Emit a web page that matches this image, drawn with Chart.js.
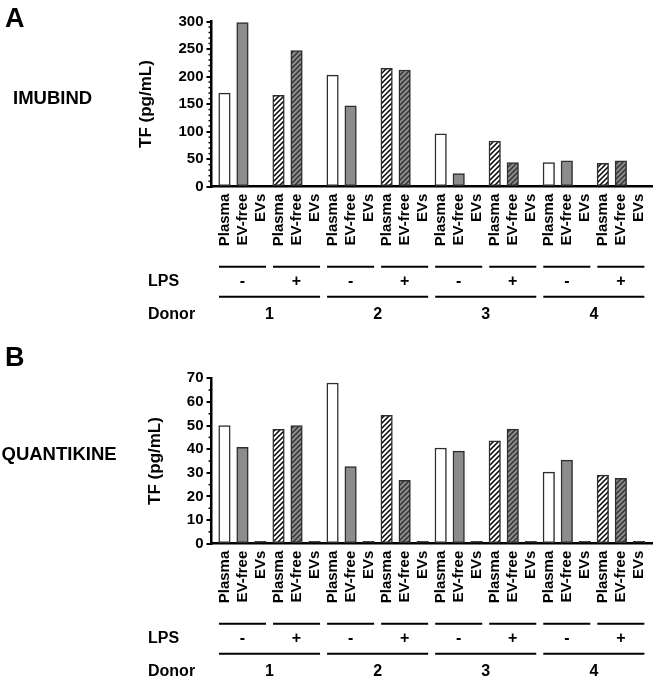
<!DOCTYPE html>
<html lang="en">
<head>
<meta charset="UTF-8">
<title>TF in plasma, EV-free plasma and EVs</title>
<style>
  body { margin: 0; background: #fff; font-family: 'Liberation Sans', Arial, sans-serif; }
  #page { position: relative; width: 664px; height: 680px; }
  .panel { position: absolute; left: 0; width: 664px; height: 340px; }
  .letter { position: absolute; font-weight: bold; font-size: 27px; line-height: 1; }
  .assay { position: absolute; font-weight: bold; font-size: 18.5px; line-height: 1; }
</style>
<script src="https://cdn.jsdelivr.net/npm/chart.js"></script>
</head>
<body>
<div id="page">
  <div class="panel" style="top:0"><canvas id="chartA"></canvas></div>
  <div class="panel" style="top:340px"><canvas id="chartB"></canvas></div>
  <div class="letter" style="left:5px; top:4.5px">A</div>
  <div class="assay" style="left:13px; top:89px">IMUBIND</div>
  <div class="letter" style="left:5px; top:344px">B</div>
  <div class="assay" style="left:1.5px; top:445px">QUANTIKINE</div>
</div>

<script>
// categories on the x axis
const fractions = ['Plasma', 'EV-free', 'EVs'];
const lpsSigns = ['-', '+'];
const donors = ['1', '2', '3', '4'];

// values per group, order: D1 -LPS, D1 +LPS, D2 -LPS, D2 +LPS, ... D4 +LPS
const imubindPlasma = [170, 166, 202.5, 215, 96, 83, 44, 42.5];
const imubindEvFree = [298, 247, 147, 212, 24, 44, 47, 47];
const imubindEVs    = [0, 0, 0, 0, 0, 0, 0, 0];

const quantPlasma = [50, 48.4, 68, 54.3, 40.5, 43.5, 30.3, 29];
const quantEvFree = [40.8, 50, 32.6, 26.8, 39.2, 48.5, 35.4, 27.7];
const quantEVs    = [1, 1, 1, 1, 1, 1, 1, 1];

// y axis ticks: [max, major step, minor step]
const imubindTicks = [300, 50, 10];
const quantTicks = [70, 10, 5];

const FONT = "'Liberation Sans', Arial, sans-serif";
const GREY = '#8c8c8c';
const EDGE = '#2e2e2e';

function makeHatch(bg, fg) {
    const c = document.createElement('canvas');
    c.width = 5; c.height = 5;
    const g = c.getContext('2d');
    g.fillStyle = bg;
    g.fillRect(0, 0, 5, 5);
    g.strokeStyle = fg;
    g.lineWidth = 1.5;
    g.beginPath();
    g.moveTo(0, 5); g.lineTo(5, 0);
    g.moveTo(-1, 1); g.lineTo(1, -1);
    g.moveTo(4, 6); g.lineTo(6, 4);
    g.stroke();
    return g.createPattern(c, 'repeat');
}

// bars of one fraction for one LPS state (lps = null -> every group)
function points(values, frac, lps) {
    const pts = [];
    values.forEach((v, g) => {
        if (lps === null || g % 2 === lps) pts.push({ x: g * 3 + frac, y: v });
    });
    return pts;
}

function barSet(data, fill) {
    return {
        data: data,
        backgroundColor: fill,
        borderColor: EDGE,
        borderWidth: 1.5,
        borderSkipped: false,
        barThickness: 11.5,
        grouped: false
    };
}

const groupRows = {
    id: 'groupRows',
    afterDraw(chart, args, opts) {
        const { ctx, chartArea } = chart;
        const xs = chart.scales.x, ys = chart.scales.y;
        ctx.save();
        // minor ticks on the y axis
        ctx.strokeStyle = '#000';
        ctx.lineWidth = 1.5;
        for (let v = opts.minor; v < ys.max; v += opts.minor) {
            if (v % opts.major === 0) continue;
            const py = ys.getPixelForValue(v);
            ctx.beginPath();
            ctx.moveTo(chartArea.left - 3, py);
            ctx.lineTo(chartArea.left, py);
            ctx.stroke();
        }
        // LPS and donor rows below the labels
        const base = chartArea.bottom;
        ctx.lineWidth = 2;
        ctx.fillStyle = '#000';
        ctx.font = 'bold 16px ' + FONT;
        ctx.textBaseline = 'middle';
        ctx.textAlign = 'left';
        ctx.fillText('LPS', 148, base + 95);
        ctx.fillText('Donor', 148, base + 128);
        ctx.textAlign = 'center';
        for (let g = 0; g < 8; g++) {
            const x0 = xs.getPixelForValue(g * 3) - 5.5;
            const x1 = xs.getPixelForValue(g * 3 + 2) + 5.5;
            ctx.beginPath(); ctx.moveTo(x0, base + 80); ctx.lineTo(x1, base + 80); ctx.stroke();
            ctx.fillText(lpsSigns[g % 2], (x0 + x1) / 2, base + 95);
        }
        donors.forEach((d, i) => {
            const x0 = xs.getPixelForValue(i * 6) - 5.5;
            const x1 = xs.getPixelForValue(i * 6 + 5) + 5.5;
            ctx.beginPath(); ctx.moveTo(x0, base + 110); ctx.lineTo(x1, base + 110); ctx.stroke();
            ctx.fillText(d, (x0 + x1) / 2, base + 128);
        });
        ctx.restore();
    }
};

function makePanel(id, plasma, evFree, evs, ticks, topPad, xHeight, titlePad) {
    const [yMax, major, minor] = ticks;
    const hatchWhite = makeHatch('#ffffff', '#000000');
    const hatchGrey = makeHatch(GREY, '#333333');
    return new Chart(document.getElementById(id), {
        type: 'bar',
        data: {
            datasets: [
                barSet(points(plasma, 0, 0), '#ffffff'),
                barSet(points(evFree, 1, 0), GREY),
                barSet(points(plasma, 0, 1), hatchWhite),
                barSet(points(evFree, 1, 1), hatchGrey),
                barSet(points(evs, 2, null), '#000000')
            ]
        },
        options: {
            responsive: true,
            maintainAspectRatio: false,
            animation: false,
            layout: { padding: { top: topPad, left: 130, right: 4, bottom: 0 } },
            plugins: {
                legend: { display: false },
                tooltip: { enabled: false },
                groupRows: { major: major, minor: minor }
            },
            scales: {
                x: {
                    type: 'linear',
                    offset: false,
                    min: -0.72,
                    max: 23.78,
                    grid: { display: false, drawTicks: false },
                    border: { display: true, color: '#000', width: 2.5 },
                    ticks: {
                        stepSize: 1,
                        includeBounds: false,
                        autoSkip: false,
                        minRotation: 90,
                        maxRotation: 90,
                        padding: 7,
                        color: '#000',
                        font: { family: FONT, size: 15, weight: 'bold' },
                        callback: v => Number.isInteger(v) ? fractions[v % 3] : ''
                    },
                    afterFit: s => { s.height = xHeight; }
                },
                y: {
                    min: 0,
                    max: yMax,
                    ticks: {
                        stepSize: major,
                        padding: 3,
                        color: '#000',
                        font: { family: FONT, size: 15, weight: 'bold' }
                    },
                    grid: { drawOnChartArea: false, tickLength: 5, color: '#000', lineWidth: 2 },
                    border: { color: '#000', width: 2.5 },
                    title: {
                        display: true,
                        text: 'TF (pg/mL)',
                        color: '#000',
                        font: { family: FONT, size: 17, weight: 'bold' },
                        padding: { top: titlePad, bottom: 0 }
                    },
                    afterFit: s => { s.width = 81.5; }
                }
            }
        },
        plugins: [groupRows]
    });
}

makePanel('chartA', imubindPlasma, imubindEvFree, imubindEVs, imubindTicks, 21.5, 153.3, 6.3);
makePanel('chartB', quantPlasma, quantEvFree, quantEVs, quantTicks, 38.3, 136.3, 14.8);
</script>
</body>
</html>
